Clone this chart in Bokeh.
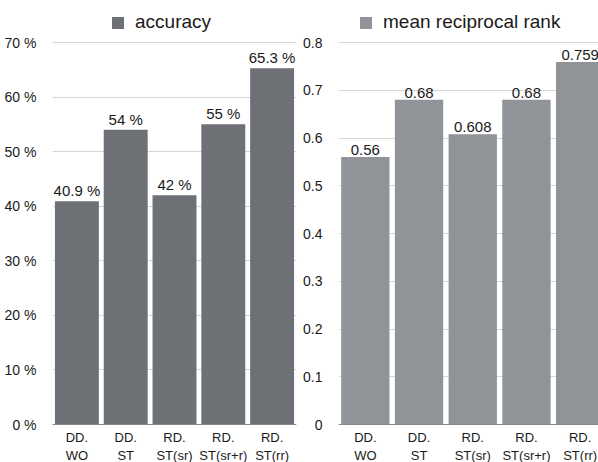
from bokeh.plotting import figure
from bokeh.models import Range1d, FixedTicker, ColumnDataSource, Legend, LegendItem, PrintfTickFormatter, Span
from bokeh.layouts import row
from bokeh.core.properties import value
from bokeh.embed import file_html
from bokeh.resources import INLINE

categories = ["DD.\nWO", "DD.\nST", "RD.\nST(sr)", "RD.\nST(sr+r)", "RD.\nST(rr)"]
accuracy = [40.9, 54, 42, 55, 65.3]
mrr = [0.56, 0.68, 0.608, 0.68, 0.759]
acc_ticks = [0, 10, 20, 30, 40, 50, 60, 70]
mrr_ticks = [0, 0.1, 0.2, 0.3, 0.4, 0.5, 0.6, 0.7, 0.8]
mrr_tick_labels = ["0", "0.1", "0.2", "0.3", "0.4", "0.5", "0.6", "0.7", "0.8"]

FONT = "Liberation Sans"
H = 462
ZERO_PX = 424   # page y of the zero line
TOP_PX = 42     # page y of the highest tick

def make(vals, ticks, color, label, width, left_border, right_border, band_px, lab_texts, tick_over, legend_x):
    xs = list(range(len(categories)))
    per = (ZERO_PX - TOP_PX) / ticks[-1]
    y_start = -(H - ZERO_PX) / per
    y_end = ZERO_PX / per
    frame_w = width - left_border - right_border
    x_end = -0.5 + frame_w / band_px
    p = figure(width=width, height=H, output_backend="svg", toolbar_location=None,
               x_range=Range1d(-0.5, x_end), y_range=Range1d(y_start, y_end),
               x_axis_type=None,
               min_border_left=left_border, min_border_right=right_border,
               min_border_top=0, min_border_bottom=0)
    src = ColumnDataSource(dict(x=xs, top=vals, lab=lab_texts, cat=categories, zero=[0] * len(xs)))
    r = p.vbar(x="x", top="top", width=0.9, source=src, fill_color=color, line_color=None)
    p.text(x="x", y="top", text="lab", source=src, text_align="center", text_baseline="bottom",
           y_offset=-2, text_font=value(FONT), text_font_size="15px", text_color="#1a1a1a")
    p.text(x="x", y="zero", text="cat", source=src, text_align="center", text_baseline="top",
           y_offset=5, text_font=value(FONT), text_font_size="13px", text_line_height=1.2,
           text_color="#1a1a1a")
    p.add_layout(Span(location=0, dimension="width", line_color="#8a8a8a", line_width=1))
    p.outline_line_color = None
    p.ygrid.ticker = FixedTicker(ticks=ticks)
    p.ygrid.grid_line_color = "#d6d6d6"
    p.yaxis.ticker = FixedTicker(ticks=ticks)
    p.yaxis.axis_line_color = None
    p.yaxis.major_tick_line_color = None
    p.yaxis.minor_tick_line_color = None
    p.yaxis.major_label_standoff = 10
    p.yaxis.major_label_text_font = FONT
    p.yaxis.major_label_text_font_size = "14px"
    p.yaxis.major_label_text_color = "#1a1a1a"
    if tick_over is not None:
        p.yaxis.major_label_overrides = tick_over
    else:
        p.yaxis.formatter = PrintfTickFormatter(format="%d %%")
    leg = Legend(items=[LegendItem(label=label, renderers=[r])], location=(legend_x, H - 33),
                 glyph_width=15, glyph_height=15, label_standoff=10, padding=0, margin=0,
                 border_line_color=None, background_fill_alpha=0,
                 label_text_font=FONT, label_text_font_size="19px", label_text_color="#1a1a1a")
    p.add_layout(leg)
    return p

acc_labels = [f"{v:g} %" for v in accuracy]
mrr_labels = [f"{v:g}" for v in mrr]
p1 = make(accuracy, acc_ticks, "#6d7075", "accuracy", 300, 52, 4, 48.8, acc_labels, None, 58)
p2 = make(mrr, mrr_ticks, "#909398", "mean reciprocal rank", 298, 38, 0, 53.7,
          mrr_labels, {t: s for t, s in zip(mrr_ticks, mrr_tick_labels)}, 20)

layout = row(p1, p2)
open("out.html", "w").write(file_html(layout, INLINE))
